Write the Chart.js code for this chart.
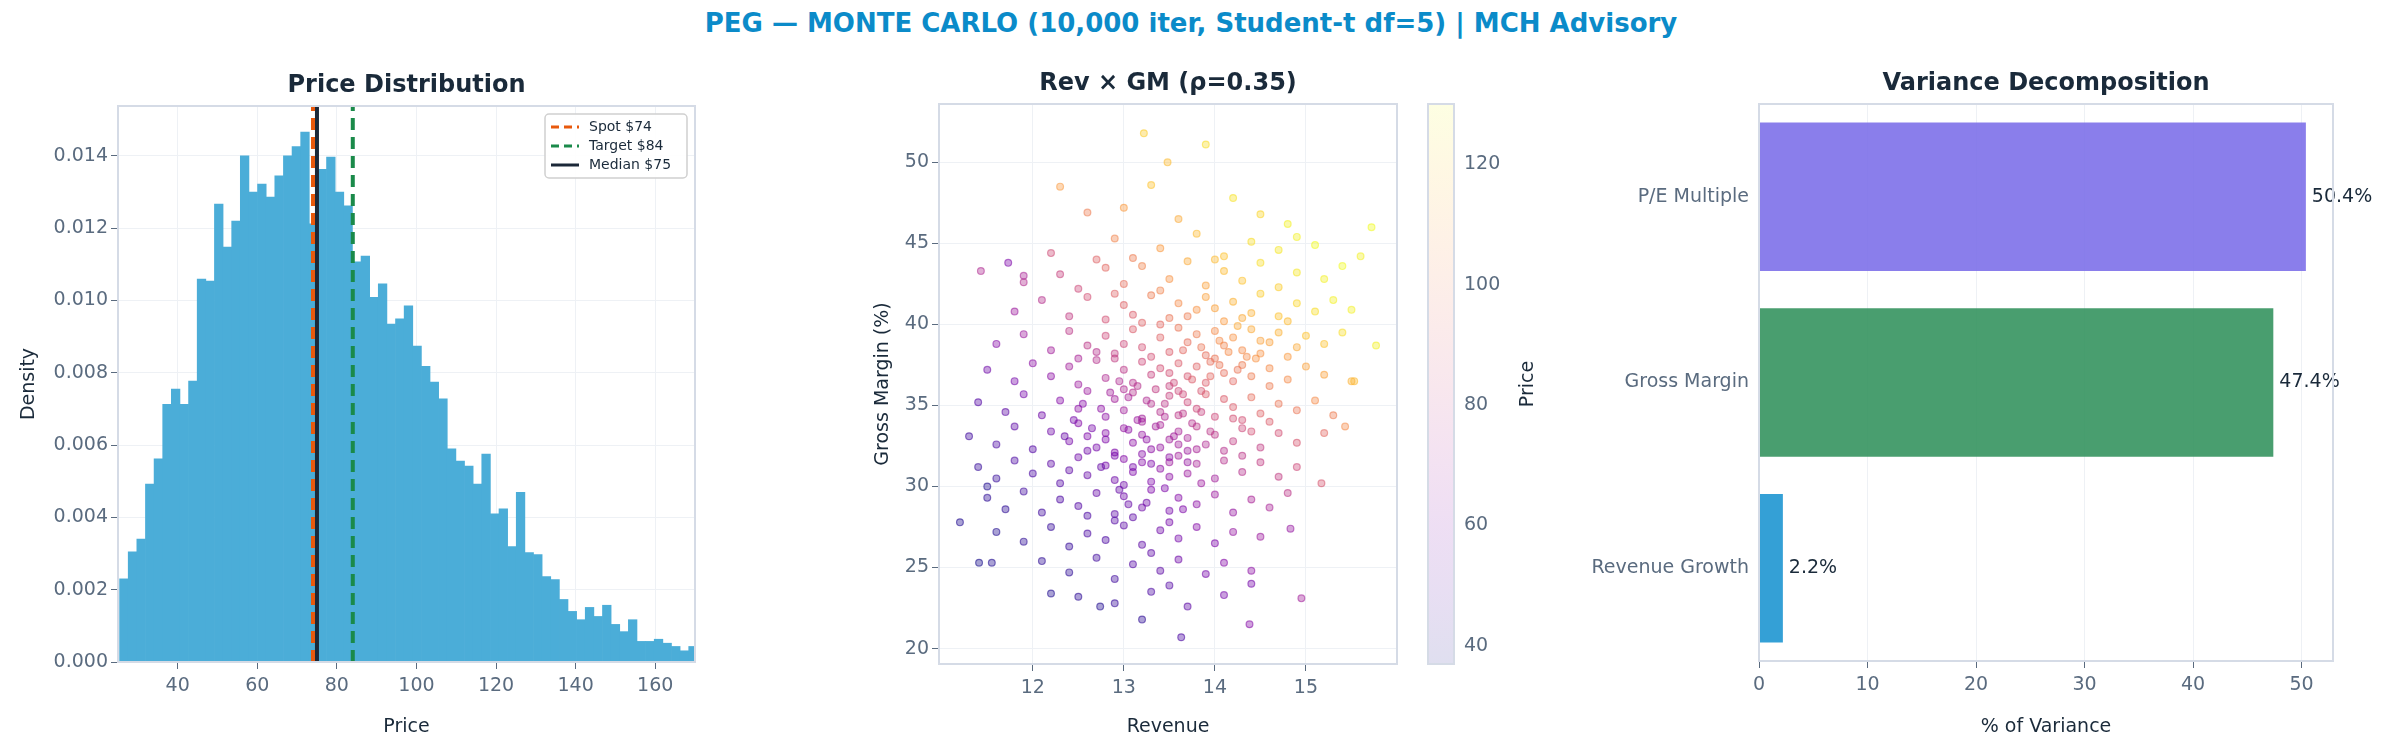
<!DOCTYPE html>
<html><head><meta charset="utf-8">
<script src="https://cdn.jsdelivr.net/npm/chart.js@4.4.1/dist/chart.umd.min.js"></script>
<style>
html,body{margin:0;padding:0;background:#fff;width:2382px;height:742px;overflow:hidden;font-family:"DejaVu Sans",sans-serif}
#title{position:absolute;top:8px;left:0;width:2382px;text-align:center;color:#0b8bc9;font-weight:bold;font-size:26px}
.c{position:absolute;top:0;height:742px}
</style></head><body>
<div id="title">PEG — MONTE CARLO (10,000 iter, Student-t df=5) | MCH Advisory</div>
<div class="c" style="left:14px;width:706px"><canvas id="h"></canvas></div>
<div class="c" style="left:868px;width:602px"><canvas id="s"></canvas></div>
<div class="c" style="left:1400px;width:200px"><canvas id="cb"></canvas></div>
<div class="c" style="left:1560px;width:822px"><canvas id="b"></canvas></div>
<script>
// ---------- DATA ----------
const histBinStart = 25.4, histBinWidth = 2.167;
const histDensity = [0.00230,0.00305,0.00340,0.00492,0.00562,0.00713,0.00755,0.00713,0.00777,0.01059,
0.01054,0.01267,0.01148,0.01220,0.01400,0.01300,0.01322,0.01286,0.01345,0.01400,
0.01426,0.01466,0.01212,0.01363,0.01397,0.01300,0.01262,0.01107,0.01123,0.01009,
0.01046,0.00935,0.00949,0.00985,0.00874,0.00818,0.00774,0.00728,0.00590,0.00556,
0.00542,0.00492,0.00575,0.00410,0.00424,0.00319,0.00469,0.00303,0.00297,0.00236,
0.00228,0.00173,0.00140,0.00117,0.00151,0.00126,0.00157,0.00104,0.00084,0.00117,
0.00057,0.00057,0.00063,0.00052,0.00043,0.00031,0.00043];
const spotPrice = 74, targetPrice = 84, medianPrice = 75;
const histXTicks = [40,60,80,100,120,140,160];

const revenue = [
13.22,13.9,13.48,12.3,11.43,11.73,11.9,11.2,11.41,11.55,13.63,14.38,14.95,15.77,15.72,15.6,15.53,15.43,15.17,14.83,14.4,13.2,12.74,12.2,11.5,
13.0,13.6,14.2,14.5,13.3,14.8,12.6,
12.2,12.9,13.4,13.8,14.1,14.4,14.7,15.1,13.1,12.7,14.9,
11.9,12.3,12.5,12.8,13.0,13.2,13.5,13.7,13.9,14.1,14.3,14.5,14.7,14.9,15.2,15.4,13.4,14.0,
11.8,12.1,12.4,12.6,12.8,13.0,13.1,13.3,13.5,13.6,13.8,13.9,14.1,14.2,14.4,14.5,14.7,14.9,15.1,15.3,15.5,13.2,14.0,12.9,
11.6,11.9,12.2,12.4,12.6,12.8,12.9,13.1,13.2,13.4,13.5,13.6,13.7,13.8,13.9,14.0,14.1,14.2,14.3,14.4,14.6,14.7,14.9,15.0,15.2,15.4,13.3,14.5,
11.5,11.8,12.0,12.2,12.4,12.5,12.7,12.8,13.0,13.1,13.2,13.3,13.4,13.5,13.6,13.7,13.8,13.9,14.0,14.1,14.2,14.3,14.4,14.6,14.8,15.0,15.2,15.5,12.9,13.5,
11.4,11.7,11.9,12.1,12.3,12.5,12.6,12.8,12.9,13.0,13.1,13.2,13.3,13.4,13.5,13.6,13.7,13.8,13.9,14.0,14.1,14.2,14.4,14.5,14.7,14.9,15.1,15.3,13.0,13.6,14.3,
11.3,11.6,11.8,12.0,12.2,12.4,12.5,12.7,12.8,12.9,13.0,13.1,13.2,13.3,13.4,13.5,13.6,13.7,13.8,13.9,14.0,14.2,14.3,14.5,14.7,14.9,15.2,13.2,13.7,12.6,
11.4,11.6,11.8,12.0,12.2,12.3,12.5,12.6,12.8,12.9,13.0,13.1,13.2,13.3,13.4,13.5,13.6,13.7,13.8,14.0,14.1,14.3,14.5,14.7,14.9,13.0,13.5,12.4,
11.5,11.7,11.9,12.1,12.3,12.5,12.7,12.9,13.0,13.2,13.3,13.5,13.6,13.8,14.0,14.2,14.4,14.6,14.8,13.1,12.6,
11.6,11.9,12.2,12.4,12.6,12.8,13.0,13.2,13.4,13.6,13.8,14.0,14.2,14.5,12.9,13.5,
12.1,12.4,12.7,12.9,13.1,13.4,13.6,13.9,14.1,14.4,13.3,
12.5,12.9,13.3,13.7,14.1,13.5,
13.05,13.15,13.25,13.35,13.45,13.55,13.65,13.75,13.85,13.95,
13.05,13.15,13.25,13.35,13.45,13.55,13.65,13.75,13.85,13.95,
13.1,13.2,13.3,13.4,13.5,13.6,13.7,13.8,12.9,12.8,
14.05,14.15,14.25,14.35,13.85,13.95,14.45,13.65,14.05,14.25,
12.75,12.65,12.85,12.55,12.95,12.45,12.35,12.75,12.6,12.95,
13.25,13.45,13.65,13.05,13.85,14.1,14.3,14.2,14.4,14.6,
14.6,14.8,14.5,14.3,14.8,13.7,13.4,13.0,12.7,12.5];
const margin = [
51.8,51.1,50.0,48.5,43.3,43.8,43.0,27.8,25.3,25.3,20.7,21.5,23.1,38.7,46.0,44.2,36.5,33.7,30.2,27.4,24.0,21.8,22.6,23.4,30.0,
47.2,46.5,47.8,46.8,48.6,46.2,46.9,
44.4,45.3,44.7,45.6,44.2,45.1,44.6,44.9,44.1,44.0,45.4,
42.6,43.1,42.2,43.5,42.5,43.6,42.8,43.9,42.4,43.3,42.7,43.8,42.3,43.2,42.8,43.6,42.1,44.0,
40.8,41.5,40.5,41.7,40.3,41.2,40.6,41.8,40.4,41.3,40.9,41.7,40.2,41.4,40.7,41.9,40.5,41.3,40.8,41.5,40.9,40.1,41.0,41.9,
38.8,39.4,38.4,39.6,38.7,39.3,38.2,39.7,38.6,39.2,38.3,39.8,38.9,39.4,38.1,39.6,38.7,39.2,38.4,39.7,38.9,39.5,38.6,39.3,38.8,39.5,38.0,38.2,
37.2,36.5,37.6,36.8,37.4,36.3,37.8,36.7,37.2,36.4,37.7,36.9,37.3,36.2,37.6,36.8,37.4,36.4,37.9,37.0,36.5,37.5,36.8,37.3,36.6,37.4,36.9,36.5,37.9,37.0,
35.2,34.6,35.7,34.4,35.3,34.8,35.9,34.3,35.4,34.7,35.8,34.2,35.1,34.6,35.6,34.4,35.2,34.8,35.7,34.3,35.4,34.9,35.5,34.5,35.1,34.7,35.3,34.4,36.0,35.9,34.1,
33.1,32.6,33.7,32.3,33.4,32.8,33.9,32.4,33.3,32.1,33.6,32.7,33.2,32.3,33.8,32.9,33.4,32.2,33.7,32.6,33.2,32.8,33.6,32.4,33.3,32.7,33.3,34.0,33.0,33.1,
31.2,30.5,31.6,30.8,31.4,30.2,31.8,30.7,31.3,30.4,31.7,30.9,31.5,30.3,31.1,30.6,31.9,30.8,31.4,30.5,31.6,30.9,31.5,30.6,31.2,30.1,31.5,31.0,
29.3,28.6,29.7,28.4,29.2,28.8,29.6,28.3,29.4,28.7,29.8,28.5,29.3,28.9,29.5,28.4,29.2,28.7,29.6,28.1,28.2,
27.2,26.6,27.5,26.3,27.1,26.7,27.6,26.4,27.3,26.8,27.5,26.5,27.2,26.9,27.9,27.8,
25.4,24.7,25.6,24.3,25.2,24.8,25.5,24.6,25.3,24.8,25.9,
23.2,22.8,23.5,22.6,23.3,23.9,
33.5,34.1,32.9,33.7,34.3,33.1,34.5,33.9,34.6,33.4,
35.5,36.2,35.3,36.0,35.1,36.4,35.7,36.6,35.9,36.8,
31.2,32.0,31.4,32.4,31.8,32.6,31.5,32.3,31.9,32.9,
37.5,38.3,37.2,38.0,38.6,37.7,37.9,38.4,39.0,39.9,
34.8,33.6,35.8,35.1,36.5,34.1,33.1,31.2,32.2,29.8,
29.0,29.9,28.6,28.9,30.2,32.2,31.9,34.2,33.4,34.0,
36.2,38.0,39.0,40.4,40.2,40.5,40.0,38.8,38.3,37.9];
const price = [
120,124,116,108,74,60,72,40,38,40,48,62,70,128,130,128,116,104,88,66,58,42,40,40,40,
108,112,125,122,118,128,100,
85,102,108,116,118,124,126,130,100,92,128,
75,82,84,94,96,102,106,112,110,116,118,124,120,126,128,130,102,116,
68,76,80,86,86,92,90,100,98,104,106,110,108,114,114,120,118,122,124,128,128,92,110,92,
62,68,70,78,78,84,80,90,86,92,90,98,96,100,96,104,102,106,104,112,110,114,112,118,118,124,86,106,
56,58,64,64,70,68,76,74,78,76,84,82,86,82,90,88,92,90,98,96,94,100,100,104,104,110,110,114,80,86,
50,52,58,56,62,64,68,64,70,70,76,70,76,76,82,78,84,84,90,84,90,90,96,92,98,98,104,100,74,84,86,
46,48,52,50,56,58,62,58,62,60,66,64,66,64,72,70,72,68,78,74,78,80,84,80,86,88,94,70,72,60,
44,44,48,48,52,50,56,54,58,56,62,60,62,60,64,64,70,68,72,70,76,76,80,80,84,56,68,52,
42,42,46,46,48,50,54,52,56,56,60,58,62,64,68,66,72,72,78,52,48,
40,42,44,44,48,48,52,52,56,58,62,60,66,68,50,58,
42,42,46,46,50,52,56,58,62,64,52,
42,44,48,52,58,50,
64,68,64,70,74,70,78,76,82,78,
72,76,74,80,78,84,84,90,88,94,
58,62,60,66,64,70,66,72,58,60,
98,104,98,104,98,96,106,94,104,112,
64,58,70,62,74,58,54,54,56,54,
56,60,60,54,68,76,78,86,86,90,
100,108,110,112,116,100,94,84,76,72];
const priceMin = 37, priceMax = 130;
const priceTicks = [40,60,80,100,120];

const varFactors = ["P/E Multiple","Gross Margin","Revenue Growth"];
const varShare = [50.4,47.4,2.2];
const varColors = ["rgba(122,108,232,0.88)","rgba(46,144,90,0.87)","rgba(30,150,210,0.9)"];

// ---------- STYLE ----------
const TICK = "#5a6b7f", DARK = "#1a2a3a", FRAME = "#d5dbe6", GRID = "#eef1f5";
const FF = "'DejaVu Sans', sans-serif";
Chart.defaults.font.family = FF;
Chart.defaults.animation = false;
Chart.defaults.devicePixelRatio = 1;
Chart.defaults.maintainAspectRatio = false;

const plasma = ["#0d0887","#4b03a1","#7d03a8","#a82296","#cb4679","#e56b5d","#f89441","#fdc328","#f0f921"];
function hex(h){return [parseInt(h.slice(1,3),16),parseInt(h.slice(3,5),16),parseInt(h.slice(5,7),16)];}
function cmap(t){t=Math.max(0,Math.min(1,t));const p=t*(plasma.length-1),i=Math.min(Math.floor(p),plasma.length-2),f=p-i;
 const a=hex(plasma[i]),b=hex(plasma[i+1]);return a.map((v,k)=>Math.round(v+(b[k]-v)*f));}
function rgba(c,a){return `rgba(${c[0]},${c[1]},${c[2]},${a})`;}

function framePlugin(title){return {id:'fr',afterDraw(ch){const a=ch.chartArea,c=ch.ctx;c.save();
 c.strokeStyle=FRAME;c.lineWidth=2;c.strokeRect(a.left,a.top,a.right-a.left,a.bottom-a.top);
 if(title){c.fillStyle=DARK;c.font="bold 24px "+FF;c.textAlign='center';c.textBaseline='bottom';c.fillText(title,(a.left+a.right)/2,a.top-8);}
 c.restore();}};}
function fixW(w){return s=>{s.width=w;};}
function fixH(h){return s=>{s.height=h;};}
const tickFont={size:19}, axTitle={display:true,color:DARK,font:{size:19}};

// ---------- HISTOGRAM ----------
const histPts = histDensity.map((d,i)=>({x:histBinStart+histBinWidth*(i+0.5),y:d}));
const yTop = 0.01538;
function vline(x,label,color,dash){return {type:'line',label,data:[{x,y:0},{x,y:yTop}],borderColor:color,borderWidth:4,borderDash:dash,pointRadius:0,order:0};}
new Chart(document.getElementById('h'),{
 data:{datasets:[
  {type:'bar',data:histPts,backgroundColor:'#4badd8',barPercentage:1,categoryPercentage:1,order:2},
  vline(spotPrice,'Spot $'+spotPrice,'#e8590c',[12,7]),
  vline(targetPrice,'Target $'+targetPrice,'#1a8a4a',[12,7]),
  vline(medianPrice,'Median $'+medianPrice,'#1b2838',[])
 ]},
 options:{layout:{padding:{left:0,right:25,top:106,bottom:0}},
  plugins:{legend:{display:false},tooltip:{enabled:false}},
  scales:{
   x:{type:'linear',offset:false,min:25,max:170,afterBuildTicks:s=>{s.ticks=histXTicks.map(v=>({value:v}));},
      ticks:{color:TICK,font:tickFont,padding:6},grid:{offset:false,color:GRID,tickColor:TICK,tickLength:7},border:{color:FRAME},
      title:{...axTitle,text:'Price'},afterFit:fixH(80)},
   y:{min:0,max:yTop,afterBuildTicks:s=>{s.ticks=[0,0.002,0.004,0.006,0.008,0.010,0.012,0.014].map(v=>({value:v}));},
      ticks:{color:TICK,font:tickFont,callback:v=>v.toFixed(3)},grid:{color:GRID,tickColor:TICK,tickLength:7},border:{color:FRAME},
      title:{...axTitle,text:'Density'},afterFit:fixW(104)}
  }},
 plugins:[framePlugin('Price Distribution'),{id:'lg',afterDraw(ch){const a=ch.chartArea,c=ch.ctx;c.save();
   const w=142,h=64,x=a.right-w-8,y=a.top+8;c.fillStyle='rgba(255,255,255,0.9)';c.strokeStyle='#d0d0d0';c.lineWidth=1.5;
   c.beginPath();c.roundRect(x,y,w,h,4);c.fill();c.stroke();
   ch.data.datasets.slice(1).forEach((d,i)=>{const yy=y+13+i*19;c.strokeStyle=d.borderColor;c.lineWidth=3;c.setLineDash(d.borderDash.length?[8,5]:[]);
    c.beginPath();c.moveTo(x+6,yy);c.lineTo(x+34,yy);c.stroke();c.setLineDash([]);c.fillStyle=DARK;c.font="14px "+FF;c.textBaseline='middle';c.fillText(d.label,x+44,yy);});
   c.restore();}}]
});

// ---------- SCATTER ----------
const scPts = revenue.map((r,i)=>({x:r,y:margin[i]}));
const scCol = price.map(p=>cmap((p-priceMin)/(priceMax-priceMin)));
new Chart(document.getElementById('s'),{
 type:'scatter',
 data:{datasets:[{data:scPts,pointRadius:3.4,borderWidth:1.2,
  backgroundColor:scCol.map(c=>rgba(c,0.38)),pointBorderColor:scCol.map(c=>rgba(c,0.55))}]},
 options:{layout:{padding:{left:0,right:73,top:104,bottom:0}},
  plugins:{legend:{display:false},tooltip:{enabled:false}},
  scales:{
   x:{min:10.97,max:16.0,afterBuildTicks:s=>{s.ticks=[12,13,14,15].map(v=>({value:v}));},
      ticks:{color:TICK,font:tickFont,padding:6},grid:{color:GRID,tickColor:TICK,tickLength:7},border:{color:FRAME},
      title:{...axTitle,text:'Revenue'},afterFit:fixH(78)},
   y:{min:19.05,max:53.6,afterBuildTicks:s=>{s.ticks=[20,25,30,35,40,45,50].map(v=>({value:v}));},
      ticks:{color:TICK,font:tickFont},grid:{color:GRID,tickColor:TICK,tickLength:7},border:{color:FRAME},
      title:{...axTitle,text:'Gross Margin (%)'},afterFit:fixW(71)}
  }},
 plugins:[framePlugin('Rev × GM (ρ=0.35)')]
});

// ---------- COLORBAR ----------
new Chart(document.getElementById('cb'),{
 type:'scatter',data:{datasets:[{data:[]}]},
 options:{layout:{padding:{left:28,right:0,top:104,bottom:78}},
  plugins:{legend:{display:false},tooltip:{enabled:false}},
  scales:{
   x:{display:false,min:0,max:1},
   y:{position:'right',min:priceMin,max:priceMax,afterBuildTicks:s=>{s.ticks=priceTicks.map(v=>({value:v}));},
      ticks:{color:TICK,font:tickFont},grid:{display:false,tickColor:TICK,tickLength:7,drawOnChartArea:false},border:{color:FRAME},
      afterFit:fixW(146)}
  }},
 plugins:[{id:'grad',beforeDatasetsDraw(ch){const a=ch.chartArea,c=ch.ctx;c.save();
   const g=c.createLinearGradient(0,a.bottom,0,a.top);plasma.forEach((h,i)=>g.addColorStop(i/(plasma.length-1),rgba(hex(h),0.13)));
   c.fillStyle=g;c.fillRect(a.left,a.top,a.right-a.left,a.bottom-a.top);c.restore();},
  afterDraw(ch){const a=ch.chartArea,c=ch.ctx;c.save();c.strokeStyle=FRAME;c.lineWidth=2;c.strokeRect(a.left,a.top,a.right-a.left,a.bottom-a.top);
   c.translate(a.right+74,(a.top+a.bottom)/2);c.rotate(-Math.PI/2);c.fillStyle=DARK;c.font="19px "+FF;c.textAlign='center';c.textBaseline='middle';c.fillText('Price',0,0);c.restore();}}]
});

// ---------- VARIANCE BARS ----------
new Chart(document.getElementById('b'),{
 type:'bar',
 data:{labels:varFactors,datasets:[{data:varShare,backgroundColor:varColors,barPercentage:0.8,categoryPercentage:1}]},
 options:{indexAxis:'y',layout:{padding:{left:0,right:49,top:104,bottom:0}},
  plugins:{legend:{display:false},tooltip:{enabled:false}},
  scales:{
   x:{min:0,max:52.9,afterBuildTicks:s=>{s.ticks=[0,10,20,30,40,50].map(v=>({value:v}));},
      ticks:{color:TICK,font:tickFont,padding:6},grid:{color:GRID,tickColor:TICK,tickLength:7},border:{color:FRAME},
      title:{...axTitle,text:'% of Variance'},afterFit:fixH(81)},
   y:{ticks:{color:TICK,font:tickFont},grid:{display:false,tickColor:TICK,tickLength:7},border:{color:FRAME},afterFit:fixW(199)}
  }},
 plugins:[framePlugin('Variance Decomposition'),{id:'vl',afterDatasetsDraw(ch){const c=ch.ctx;c.save();c.fillStyle=DARK;c.font="19px "+FF;c.textBaseline='middle';
   ch.getDatasetMeta(0).data.forEach((el,i)=>c.fillText(varShare[i].toFixed(1)+'%',el.x+6,el.y));c.restore();}}]
});
</script></body></html>
